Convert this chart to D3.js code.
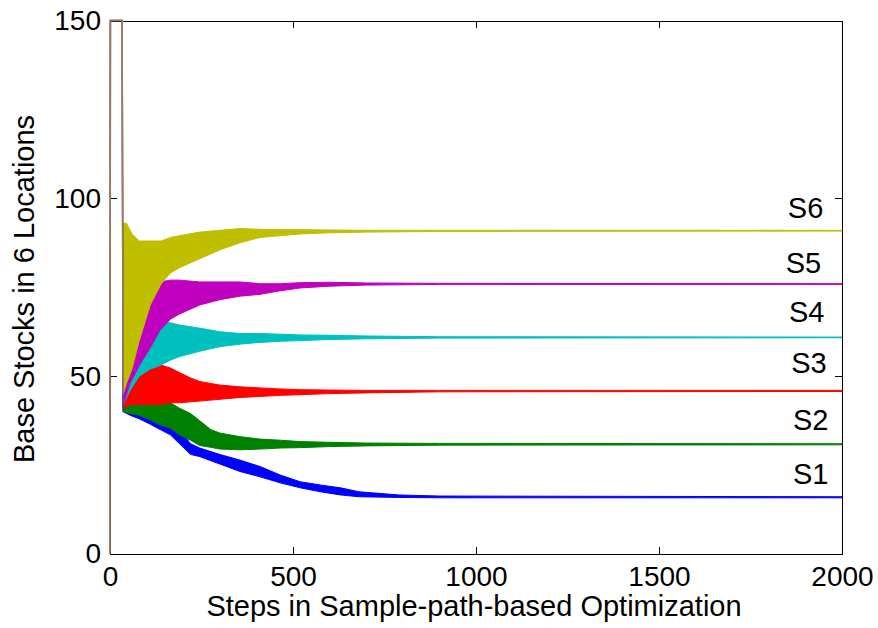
<!DOCTYPE html>
<html lang="en">
<head>
<meta charset="UTF-8">
<title>Base Stocks in 6 Locations</title>
<script src="https://d3js.org/d3.v7.min.js"></script>
<style>
  body { margin: 0; background: #fff; }
  svg text { font-family: "Liberation Sans", Arial, sans-serif; fill: #000; }
  .axis path, .axis line { stroke: #000; stroke-width: 1; shape-rendering: crispEdges; }
  .axis text { font-size: 28px; }
  .title { font-size: 29px; }
  .tag { font-size: 29px; }
</style>
</head>
<body>
<script>
// tick values
const xTicks = [0, 500, 1000, 1500, 2000];
const yTicks = [0, 50, 100, 150];

// first steps shared by all series: 0 at step 0, 150 until the search starts
const startSteps = [0, 1, 33];
const startValues = [0, 150, 150];

// oscillation band of each series: [step, upper, lower]
const s1Band = [[36, 48, 40], [55, 46, 39], [80, 44, 38], [110, 42, 36.5], [137, 40, 35],
  [165, 38, 33.5], [190, 35, 31], [220, 31, 28], [245, 29.8, 27.4], [300, 28, 25.3],
  [355, 26.4, 23.2], [410, 24.6, 21.7], [465, 22.2, 20], [520, 20.3, 18.6], [575, 19.4, 17.5],
  [630, 18.6, 16.6], [680, 17.5, 16.1], [790, 16.6, 15.9], [900, 16.3, 15.8], [2000, 16.1, 15.8]];
const s2Band = [[36, 50, 40], [55, 49, 39.5], [80, 47, 39], [110, 45.3, 37.7], [137, 43.3, 36.3],
  [165, 42.5, 35.4], [190, 41, 33.5], [220, 39.5, 32], [245, 37.5, 30.5], [275, 35, 30],
  [300, 34, 29.5], [355, 33, 29.3], [410, 32.3, 29.5], [465, 32, 29.8], [520, 31.6, 29.9],
  [600, 31.4, 30.2], [700, 31.2, 30.4], [900, 31.1, 30.6], [2000, 31, 30.7]];
const s3Band = [[36, 54, 41], [55, 53.5, 42], [80, 53.7, 42], [110, 52.7, 42], [137, 53.2, 42],
  [165, 52.3, 42.5], [190, 51, 42.5], [220, 49.5, 42.8], [245, 48.5, 43], [300, 47.5, 43.5],
  [355, 47, 44], [410, 46.7, 44.3], [465, 46.4, 44.6], [520, 46.2, 44.8], [600, 46.1, 45.1],
  [700, 46, 45.3], [900, 46, 45.6], [2000, 46, 45.7]];
const s4Band = [[36, 66, 42], [55, 66, 46], [80, 65.5, 50], [110, 65.5, 52], [137, 65.3, 53],
  [165, 65, 54.5], [190, 64.4, 55.5], [245, 63.5, 57], [300, 62.5, 58.3], [355, 62, 59],
  [410, 62, 59.5], [465, 61.8, 59.8], [520, 61.6, 60], [600, 61.5, 60.3], [700, 61.3, 60.5],
  [900, 61.1, 60.7], [2000, 61, 60.8]];
const s5Band = [[36, 70, 42], [55, 70, 48], [80, 69, 53], [110, 72.5, 58], [137, 76.5, 63],
  [165, 77, 66], [190, 77, 67.5], [245, 76.5, 70], [300, 76.5, 71.5], [355, 76.5, 72.5],
  [410, 76, 73], [465, 76, 74], [520, 76.3, 74.8], [600, 76.4, 75.3], [700, 76.2, 75.6],
  [900, 76.1, 75.8], [2000, 76, 75.8]];
const s6Band = [[36, 93, 45], [45, 93, 48], [60, 90, 52], [80, 88, 60], [110, 88, 70],
  [140, 88, 76], [165, 89, 79], [190, 89.5, 80.5], [245, 90.5, 83], [300, 91, 85.5],
  [355, 91.5, 87.5], [410, 91.3, 89], [465, 91.2, 89.5], [520, 91.2, 90], [600, 91.1, 90.3],
  [700, 91, 90.5], [900, 91, 90.7], [2000, 91, 90.8]];

const seriesNames = ["S1", "S2", "S3", "S4", "S5", "S6"];
const seriesColors = ["#0000ff", "#008000", "#ff0000", "#00bfbf", "#bf00bf", "#bfbf00"];
const bands = [s1Band, s2Band, s3Band, s4Band, s5Band, s6Band];

// text tags placed in data units (left edge step, middle value)
const tagSteps = [1866, 1866, 1861, 1855, 1846, 1852];
const tagValues = [22.5, 37.7, 53.8, 68.1, 81.9, 97.5];

const width = 878, height = 628;
const margin = {top: 20.5, right: 36, bottom: 74, left: 110};

const svg = d3.select("body").append("svg")
  .attr("width", width)
  .attr("height", height);

svg.append("rect").attr("width", width).attr("height", height).attr("fill", "#fff");

const x = d3.scaleLinear().domain([0, 2000]).range([margin.left, width - margin.right]);
const y = d3.scaleLinear().domain([0, 150]).range([height - margin.bottom, margin.top]);

// axes, ticks pointing inward like the original
const xBase = height - margin.bottom;

svg.append("g")
  .attr("class", "axis")
  .attr("transform", `translate(0,${xBase})`)
  .call(d3.axisBottom(x).tickValues(xTicks).tickSize(-7).tickSizeOuter(0)
    .tickPadding(12).tickFormat(d3.format("d")));

svg.append("g")
  .attr("class", "axis")
  .attr("transform", `translate(0,${margin.top})`)
  .call(d3.axisTop(x).tickValues(xTicks).tickSize(-7).tickSizeOuter(0).tickFormat(""));

svg.append("g")
  .attr("class", "axis")
  .attr("transform", `translate(${margin.left},0)`)
  .call(d3.axisLeft(y).tickValues(yTicks).tickSize(-7).tickSizeOuter(0).tickPadding(9));

svg.append("g")
  .attr("class", "axis")
  .attr("transform", `translate(${width - margin.right},0)`)
  .call(d3.axisRight(y).tickValues(yTicks).tickSize(-7).tickSizeOuter(0).tickFormat(""));

svg.selectAll(".axis text").attr("font-family", null).attr("font-size", null);

const plot = svg.append("g");

bands.forEach((band, i) => {
  const color = seriesColors[i];

  // oscillation band
  plot.append("path")
    .datum(band)
    .attr("fill", color)
    .attr("stroke", color)
    .attr("stroke-width", 1)
    .attr("stroke-linejoin", "round")
    .attr("d", d3.area()
      .x(d => x(d[0]))
      .y0(d => y(d[2]))
      .y1(d => y(d[1])));
});

// start: all series jump to 150, hold, then drop into their band
bands.forEach((band, i) => {
  const start = startSteps.map((s, k) => [s, startValues[k]]);
  start.push([band[0][0], band[0][2]]);
  plot.append("path")
    .datum(start)
    .attr("fill", "none")
    .attr("stroke", seriesColors[i])
    .attr("stroke-opacity", 0.45)
    .attr("stroke-width", 1.5)
    .attr("d", d3.line().x(d => x(d[0])).y(d => y(d[1])));
});

// tags
svg.selectAll(".tag")
  .data(seriesNames)
  .enter()
  .append("text")
  .attr("class", "tag")
  .attr("x", (d, i) => x(tagSteps[i]))
  .attr("y", (d, i) => y(tagValues[i]))
  .attr("dy", "0.36em")
  .text(d => d);

// titles
svg.append("text")
  .attr("class", "title")
  .attr("x", 474)
  .attr("y", 616)
  .attr("text-anchor", "middle")
  .text("Steps in Sample-path-based Optimization");

svg.append("text")
  .attr("class", "title")
  .attr("transform", "translate(34,289) rotate(-90)")
  .attr("text-anchor", "middle")
  .text("Base Stocks in 6 Locations");
</script>
</body>
</html>
